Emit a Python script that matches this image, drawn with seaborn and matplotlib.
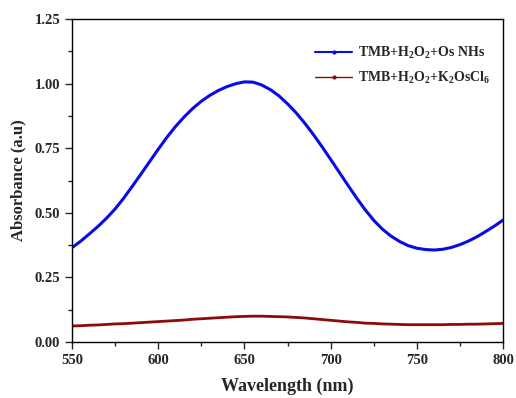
import numpy as np
import pandas as pd
import matplotlib
matplotlib.use("Agg")
import matplotlib.pyplot as plt
from matplotlib.ticker import MultipleLocator, FormatStrFormatter
import seaborn as sns

# wavelengths (nm), every 5 nm
wavelength = list(range(550, 801, 5))
# TMB+H2O2+Os NHs
abs_os_nhs = [0.365, 0.390, 0.418, 0.447, 0.479, 0.515, 0.557, 0.603, 0.650, 0.698,
              0.746, 0.792, 0.834, 0.871, 0.904, 0.932, 0.955, 0.974, 0.989, 1.000,
              1.007, 1.006, 0.995, 0.977, 0.953, 0.922, 0.887, 0.847, 0.803, 0.756,
              0.707, 0.657, 0.607, 0.558, 0.512, 0.471, 0.437, 0.410, 0.389, 0.373,
              0.363, 0.358, 0.356, 0.359, 0.366, 0.377, 0.391, 0.408, 0.428, 0.449,
              0.472]
# TMB+H2O2+K2OsCl6
abs_k2oscl6 = [0.062, 0.063, 0.065, 0.066, 0.068, 0.070, 0.071, 0.073, 0.075, 0.077,
               0.079, 0.081, 0.083, 0.085, 0.088, 0.090, 0.092, 0.094, 0.096, 0.098,
               0.099, 0.100, 0.100, 0.099, 0.098, 0.097, 0.095, 0.093, 0.090, 0.087,
               0.084, 0.081, 0.078, 0.076, 0.073, 0.072, 0.070, 0.069, 0.068, 0.067,
               0.067, 0.067, 0.067, 0.067, 0.068, 0.068, 0.069, 0.069, 0.070, 0.071,
               0.072]

labels = [r"TMB+H$_{2}$O$_{2}$+Os NHs", r"TMB+H$_{2}$O$_{2}$+K$_{2}$OsCl$_{6}$"]

df = pd.DataFrame({
    "Wavelength": wavelength * 2,
    "Absorbance": abs_os_nhs + abs_k2oscl6,
    "Sample": [labels[0]] * len(wavelength) + [labels[1]] * len(wavelength),
})

sns.set_style("ticks")
plt.rcParams["font.family"] = ["Liberation Serif", "DejaVu Serif"]
plt.rcParams["font.weight"] = "bold"
plt.rcParams["mathtext.fontset"] = "custom"
plt.rcParams["mathtext.rm"] = "Liberation Serif:bold"
plt.rcParams["mathtext.it"] = "Liberation Serif:bold"
plt.rcParams["mathtext.bf"] = "Liberation Serif:bold"

fig, ax = plt.subplots(figsize=(5.16, 3.98), dpi=100)
fig.subplots_adjust(left=0.1395, right=0.975, top=0.952, bottom=0.1407)

sns.lineplot(data=df, x="Wavelength", y="Absorbance", hue="Sample",
             palette=["#0a0ae6", "#8b0a0a"], linewidth=2.2, ax=ax)
ax.lines[1].set_linewidth(2.0)

ax.set_xlim(550, 800)
ax.set_ylim(0, 1.25)
ax.xaxis.set_major_locator(MultipleLocator(50))
ax.xaxis.set_minor_locator(MultipleLocator(25))
ax.yaxis.set_major_locator(MultipleLocator(0.25))
ax.yaxis.set_minor_locator(MultipleLocator(0.125))
ax.yaxis.set_major_formatter(FormatStrFormatter("%.2f"))
ax.tick_params(which="major", length=5, width=1.0, labelsize=10.5, direction="out")
ax.tick_params(which="minor", length=3, width=1.0, direction="out")
for lab in ax.get_xticklabels() + ax.get_yticklabels():
    lab.set_fontweight("bold")
for sp in ax.spines.values():
    sp.set_linewidth(1.0)
    sp.set_color("black")

ax.set_xlabel("Wavelength (nm)", fontsize=13, fontweight="bold", labelpad=8)
ax.set_ylabel("Absorbance (a.u)", fontsize=12, fontweight="bold", labelpad=6)

handles = [plt.Line2D([], [], color="#0a0ae6", lw=1.5, marker="o", markersize=2),
           plt.Line2D([], [], color="#8b0a0a", lw=1.0, marker="o", markersize=2)]
ax.legend(handles, labels, loc="upper right", bbox_to_anchor=(1.0, 0.96), frameon=False,
          prop={"weight": "bold", "size": 10}, handlelength=2.7, labelspacing=0.7, handletextpad=0.4)

fig.savefig("out.png", dpi=100)
